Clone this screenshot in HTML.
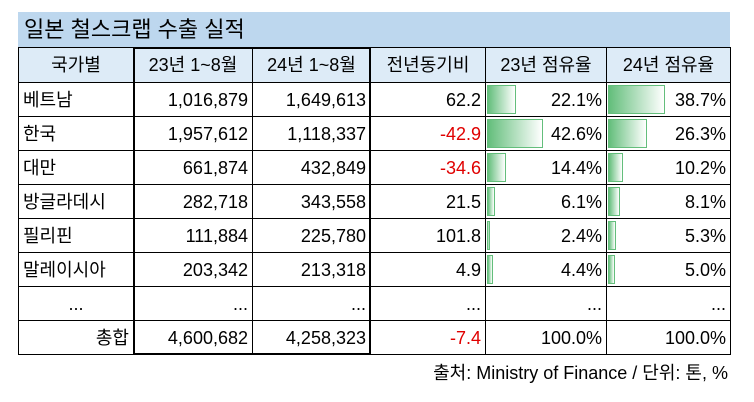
<!DOCTYPE html>
<html><head><meta charset="utf-8"><style>
body{margin:0;width:754px;height:402px;background:#fff;font-family:"Liberation Sans","Noto Sans CJK KR",sans-serif;position:relative;overflow:hidden}
.c{position:absolute;box-sizing:border-box;font-size:18px;color:#000;line-height:34px;white-space:nowrap}
.bar{position:absolute;box-sizing:border-box;border:1px solid #63be7b;background:linear-gradient(to right,#63be7b,#fff)}
</style></head><body>
<div style="position:absolute;left:18px;top:12px;width:712px;height:35px;background:#bdd7ee"></div>
<div class="c" style="left:24px;top:12px;font-size:22px;line-height:35px">일본 철스크랩 수출 실적</div>
<div id="t"></div>
<div class="c" style="right:26px;top:356px;text-align:right">출처: Ministry of Finance / 단위: 톤, %</div>
<script>
const headers=["국가별","23년 1~8월","24년 1~8월","전년동기비","23년 점유율","24년 점유율"];
const countries=["베트남","한국","대만","방글라데시","필리핀","말레이시아","...","총합"];
const v23=["1,016,879","1,957,612","661,874","282,718","111,884","203,342","...","4,600,682"];
const v24=["1,649,613","1,118,337","432,849","343,558","225,780","213,318","...","4,258,323"];
const yoy=[62.2,-42.9,-34.6,21.5,101.8,4.9,null,-7.4];
const share23=[22.1,42.6,14.4,6.1,2.4,4.4,null,100.0];
const share24=[38.7,26.3,10.2,8.1,5.3,5.0,null,100.0];
const xs=[18,133,252,370,485,606,730];
const top0=47,hh=35,rh=34,nRows=countries.length;
const t=document.getElementById('t');
function cell(i,y,h,txt,align,name,bg,color){
  const d=document.createElement('div');d.className='c';
  
  
  d.style.left=xs[i]+'px';d.style.top=y+'px';d.style.width=(xs[i+1]-xs[i]+1)+'px';d.style.height=(h+1)+'px';
  d.style.border='1px solid #000';d.style.lineHeight=h+'px';d.style.textAlign=align;
  d.style.padding='0 4px';if(bg)d.style.background=bg;if(color)d.style.color=color;
  d.textContent=txt;t.appendChild(d);return d;
}
headers.forEach((h,i)=>cell(i,top0,hh,h,'center','header-'+i,'#ddebf7'));
const max23=Math.max(...share23.slice(0,6)),max24=Math.max(...share24.slice(0,6));
for(let r=0;r<nRows;r++){
  const y=top0+hh+r*rh,last=r==nRows-1,dots=countries[r]==="...";
  cell(0,y,rh,countries[r],last?'right':(dots?'center':'left'),'country-'+r);
  cell(1,y,rh,v23[r],'right','value-23-'+r);
  cell(2,y,rh,v24[r],'right','value-24-'+r);
  cell(3,y,rh,yoy[r]==null?'...':yoy[r].toFixed(1),'right','yoy-'+r,null,yoy[r]<0?'#e00000':null);
  [[share23,max23,4],[share24,max24,5]].forEach(([arr,mx,ci])=>{
    if(arr[r]!=null&&!last){
      const b=document.createElement('div');b.className='bar';
      
      
      const w=(xs[ci+1]-xs[ci])*0.46*arr[r]/mx;
      b.style.left=(xs[ci]+2)+'px';b.style.top=(y+3)+'px';b.style.width=Math.max(3,w)+'px';b.style.height=(rh-5)+'px';
      t.appendChild(b);
    }
    const d=cell(ci,y,rh,arr[r]==null?'...':arr[r].toFixed(1)+'%','right','share-'+ci+'-'+r);
    d.style.background='transparent';
  });
}
const box=document.createElement('div');


box.style.cssText='position:absolute;box-sizing:border-box;border:2px solid #000;left:'+xs[1]+'px;top:'+top0+'px;width:'+(xs[3]-xs[1]+1)+'px;height:'+(hh+nRows*rh+1)+'px';
t.appendChild(box);
</script>
</body></html>
